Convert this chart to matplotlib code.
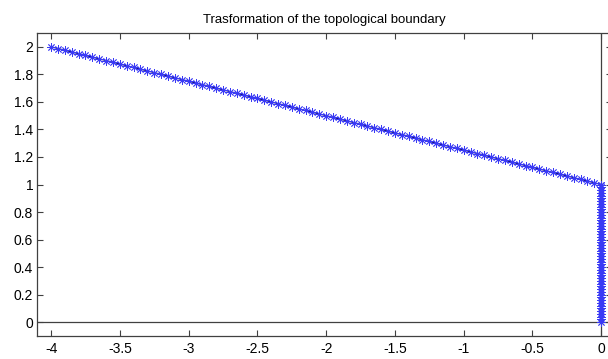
import matplotlib
matplotlib.use("Agg")
import matplotlib.pyplot as plt

plt.rcParams['font.family'] = ['Liberation Sans', 'DejaVu Sans']

# boundary points: slanted edge from (-4, 2) to (0, 1)
top_x = [-4.00, -3.95, -3.90, -3.85, -3.80, -3.75, -3.70, -3.65, -3.60, -3.55,
         -3.50, -3.45, -3.40, -3.35, -3.30, -3.25, -3.20, -3.15, -3.10, -3.05,
         -3.00, -2.95, -2.90, -2.85, -2.80, -2.75, -2.70, -2.65, -2.60, -2.55,
         -2.50, -2.45, -2.40, -2.35, -2.30, -2.25, -2.20, -2.15, -2.10, -2.05,
         -2.00, -1.95, -1.90, -1.85, -1.80, -1.75, -1.70, -1.65, -1.60, -1.55,
         -1.50, -1.45, -1.40, -1.35, -1.30, -1.25, -1.20, -1.15, -1.10, -1.05,
         -1.00, -0.95, -0.90, -0.85, -0.80, -0.75, -0.70, -0.65, -0.60, -0.55,
         -0.50, -0.45, -0.40, -0.35, -0.30, -0.25, -0.20, -0.15, -0.10, -0.05,
         0.00]
top_y = [2.0000, 1.9875, 1.9750, 1.9625, 1.9500, 1.9375, 1.9250, 1.9125, 1.9000, 1.8875,
         1.8750, 1.8625, 1.8500, 1.8375, 1.8250, 1.8125, 1.8000, 1.7875, 1.7750, 1.7625,
         1.7500, 1.7375, 1.7250, 1.7125, 1.7000, 1.6875, 1.6750, 1.6625, 1.6500, 1.6375,
         1.6250, 1.6125, 1.6000, 1.5875, 1.5750, 1.5625, 1.5500, 1.5375, 1.5250, 1.5125,
         1.5000, 1.4875, 1.4750, 1.4625, 1.4500, 1.4375, 1.4250, 1.4125, 1.4000, 1.3875,
         1.3750, 1.3625, 1.3500, 1.3375, 1.3250, 1.3125, 1.3000, 1.2875, 1.2750, 1.2625,
         1.2500, 1.2375, 1.2250, 1.2125, 1.2000, 1.1875, 1.1750, 1.1625, 1.1500, 1.1375,
         1.1250, 1.1125, 1.1000, 1.0875, 1.0750, 1.0625, 1.0500, 1.0375, 1.0250, 1.0125,
         1.0000]

# vertical edge at x = 0 from y = 1 down to y = 0
side_y = [1.00, 0.98, 0.96, 0.94, 0.92, 0.90, 0.88, 0.86, 0.84, 0.82,
          0.80, 0.78, 0.76, 0.74, 0.72, 0.70, 0.68, 0.66, 0.64, 0.62,
          0.60, 0.58, 0.56, 0.54, 0.52, 0.50, 0.48, 0.46, 0.44, 0.42,
          0.40, 0.38, 0.36, 0.34, 0.32, 0.30, 0.28, 0.26, 0.24, 0.22,
          0.20, 0.18, 0.16, 0.14, 0.12, 0.10, 0.08, 0.06, 0.04, 0.02,
          0.00]
side_x = [0.0] * len(side_y)

x_ticks = [-4, -3.5, -3, -2.5, -2, -1.5, -1, -0.5, 0]
x_labels = ['-4', '-3.5', '-3', '-2.5', '-2', '-1.5', '-1', '-0.5', '0']
y_ticks = [0, 0.2, 0.4, 0.6, 0.8, 1, 1.2, 1.4, 1.6, 1.8, 2]
y_labels = ['0', '0.2', '0.4', '0.6', '0.8', '1', '1.2', '1.4', '1.6', '1.8', '2']

fig = plt.figure(figsize=(6.08, 3.59), dpi=100)
ax = fig.add_axes([0.0614, 0.064, 0.9456, 0.844])

axis_col = '#404040'
ax.axhline(0, color=axis_col, lw=0.9, zorder=1)
ax.axvline(0, color=axis_col, lw=0.9, zorder=1)

ax.plot(top_x + side_x, top_y + side_y, color='#14148a', lw=0.9,
        marker=(8, 2, 0), markersize=6, markeredgewidth=0.6,
        markeredgecolor='#3a3af5', zorder=3)

ax.set_xlim(-4.1, 0.08)
ax.set_ylim(-0.1, 2.1)
ax.set_xticks(x_ticks)
ax.set_xticklabels(x_labels)
ax.set_yticks(y_ticks)
ax.set_yticklabels(y_labels)

for s in ax.spines.values():
    s.set_color(axis_col)
    s.set_linewidth(0.9)

ax.tick_params(axis='both', direction='in', length=4, width=0.8, colors=axis_col,
               labelcolor='black', labelsize=10, top=True, right=True)
ax.tick_params(axis='x', pad=4.5)
ax.tick_params(axis='y', pad=3)

ax.set_title('Trasformation of the topological boundary', fontsize=9.5, pad=7)

fig.savefig('out.png', dpi=100)
